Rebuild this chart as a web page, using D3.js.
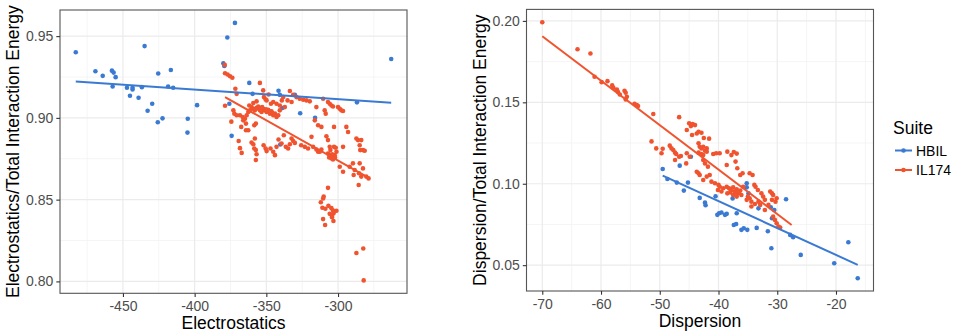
<!DOCTYPE html>
<html><head><meta charset="utf-8">
<script src="https://cdn.jsdelivr.net/npm/d3@7"></script>
<style>body{margin:0;background:#fff}svg{display:block}text{font-family:"Liberation Sans",Arial,sans-serif}</style>
</head><body><div id="chart"></div>
<script>
// ---------- DATA ----------
const suites = ["HBIL", "IL174"];
const suiteColors = ["#3A7AD2", "#F0532E"];

const elecTicks = [-450, -400, -350, -300];
const elecTickLabels = ["-450", "-400", "-350", "-300"];
const elecRatioTicks = [0.80, 0.85, 0.90, 0.95];
const elecRatioTickLabels = ["0.80", "0.85", "0.90", "0.95"];
const dispTicks = [-70, -60, -50, -40, -30, -20];
const dispTickLabels = ["-70", "-60", "-50", "-40", "-30", "-20"];
const dispRatioTicks = [0.05, 0.10, 0.15, 0.20];
const dispRatioTickLabels = ["0.05", "0.10", "0.15", "0.20"];

// Electrostatics vs Electrostatics/Total Interaction Energy
const elecHBIL = [
[-482.9,0.9401],[-469.2,0.9285],[-464.1,0.9257],[-457.7,0.9289],[-456.5,0.9277],[-455.1,0.9249],[-457.2,0.9192],
[-447.2,0.9184],[-443.3,0.9184],[-443.3,0.9174],[-445.1,0.9135],[-439.1,0.9123],[-436.8,0.9188],[-434.9,0.9439],
[-432.8,0.9044],[-429.6,0.9086],[-425.4,0.9271],[-425.7,0.8973],[-422.4,0.8997],[-418.5,0.9192],[-416.6,0.9293],
[-415.0,0.9184],[-404.8,0.8995],[-405.0,0.8910],[-398.3,0.9078],[-380.0,0.9334],[-379.3,0.9318],[-377.2,0.9492],
[-371.9,0.9581],[-375.8,0.9086],[-374.2,0.8890],[-361.9,0.9214],[-359.6,0.9147],[-341.5,0.9166],[-340.6,0.9141],
[-338.9,0.9060],[-340.3,0.8837],[-330.1,0.9141],[-326.4,0.9028],[-316.0,0.9001],[-286.8,0.9095],[-262.9,0.9360]
];
const elecIL174 = [
[-379.0,0.9324],[-378.8,0.9273],[-377.0,0.9265],[-375.3,0.9255],[-373.7,0.9245],[-378.8,0.9074],[-371.6,0.9178],[-370.7,0.9147],
[-374.4,0.8977],[-373.0,0.9046],[-372.3,0.9026],[-370.7,0.9016],[-369.3,0.8859],[-368.4,0.8815],[-367.2,0.8786],[-367.5,0.8945],
[-364.2,0.8924],[-362.6,0.8924],[-368.4,0.9016],[-366.5,0.9005],[-364.9,0.8995],[-363.7,0.9016],[-362.6,0.9036],[-361.4,0.9046],
[-360.3,0.9066],[-359.1,0.9056],[-358.0,0.9046],[-356.8,0.9062],[-355.6,0.9070],[-354.5,0.9046],[-353.3,0.9036],[-352.2,0.9056],
[-351.0,0.9046],[-349.8,0.9036],[-348.7,0.9050],[-347.5,0.9026],[-346.4,0.9040],[-345.2,0.9016],[-344.0,0.9026],[-342.9,0.9005],
[-341.7,0.9016],[-340.6,0.9046],[-361.9,0.9076],[-359.1,0.9091],[-356.8,0.9101],[-366.1,0.8985],[-364.2,0.8965],[-358.4,0.8955],
[-357.3,0.8965],[-360.3,0.8849],[-359.1,0.8839],[-358.4,0.8813],[-357.3,0.8803],[-356.8,0.8778],[-358.0,0.8874],[-357.3,0.8742],
[-351.9,0.8833],[-350.5,0.8813],[-349.8,0.8797],[-347.1,0.8813],[-345.2,0.8793],[-344.0,0.8772],[-342.9,0.8823],[-341.5,0.8868],
[-339.4,0.8843],[-337.8,0.8894],[-336.4,0.8823],[-334.8,0.8813],[-333.6,0.8839],[-331.3,0.8859],[-330.1,0.8847],[-332.4,0.8874],
[-354.5,0.9214],[-352.2,0.9168],[-351.7,0.9127],[-350.5,0.9113],[-349.8,0.9107],[-348.4,0.9143],[-346.8,0.9086],[-345.2,0.9097],
[-342.9,0.9086],[-340.6,0.9076],[-339.2,0.9107],[-338.2,0.9127],[-337.1,0.9066],[-335.2,0.9107],[-333.6,0.9164],[-332.4,0.9097],
[-331.3,0.9141],[-329.0,0.9127],[-326.7,0.9117],[-324.3,0.9111],[-322.0,0.9107],[-319.7,0.9101],[-325.7,0.8833],[-323.2,0.8823],
[-320.9,0.8813],[-318.5,0.8884],[-317.4,0.8823],[-316.2,0.8985],[-315.1,0.9066],[-313.9,0.8955],[-311.6,0.8945],[-310.4,0.9117],
[-309.3,0.9046],[-308.6,0.9026],[-308.1,0.8888],[-307.0,0.8864],[-305.8,0.8823],[-315.1,0.8807],[-313.9,0.8793],[-312.7,0.8793],
[-311.6,0.8807],[-307.0,0.9097],[-305.8,0.9086],[-304.6,0.9076],[-303.5,0.9070],[-302.8,0.8945],[-300.0,0.9066],[-298.8,0.9056],
[-297.7,0.9046],[-296.5,0.9042],[-307.0,0.8782],[-305.8,0.8772],[-304.6,0.8766],[-303.5,0.8762],[-302.3,0.8772],[-301.1,0.8793],
[-306.2,0.8758],[-304.6,0.8752],[-303.5,0.8746],[-305.3,0.8803],[-302.8,0.8823],[-301.6,0.8817],[-296.5,0.8823],[-298.8,0.8701],
[-296.5,0.8671],[-294.2,0.8945],[-293.0,0.8914],[-291.9,0.8701],[-289.6,0.8722],[-288.4,0.8681],[-289.1,0.8651],[-287.2,0.8874],
[-286.1,0.8864],[-284.9,0.8833],[-284.5,0.8803],[-283.8,0.8864],[-282.6,0.8803],[-281.4,0.8799],[-284.9,0.8722],[-285.4,0.8661],
[-283.8,0.8641],[-285.6,0.8590],[-282.6,0.8691],[-280.3,0.8641],[-278.7,0.8630],[-307.0,0.8572],[-310.0,0.8519],[-310.4,0.8507],
[-312.0,0.8484],[-310.9,0.8450],[-308.8,0.8444],[-306.7,0.8462],[-304.6,0.8448],[-303.5,0.8434],[-301.1,0.8432],[-305.8,0.8413],
[-303.9,0.8407],[-303.0,0.8418],[-304.2,0.8393],[-310.4,0.8381],[-309.0,0.8345],[-303.2,0.8369],[-282.4,0.8201],[-287.2,0.8174],
[-282.1,0.8006],
[-355.0,0.9058],[-353.8,0.9049],[-350.3,0.9052],[-347.9,0.9041],[-352.9,0.9066],[-357.5,0.9054],[-346.0,0.9031],[-304.1,0.8778],[-302.1,0.8757]
];
// linear fit lines (end points)
const elecFitHBIL = [[-482.9, 0.9222], [-262.9, 0.9093]];
const elecFitIL174 = [[-378.8, 0.9127], [-277.9, 0.8630]];

// Dispersion vs Dispersion/Total Interaction Energy
const dispHBIL = [
[-49.5,0.1091],[-48.7,0.1029],[-47.1,0.1007],[-46.6,0.1111],[-45.9,0.0958],[-45.2,0.1007],[-44.7,0.1166],[-43.2,0.0913],
[-42.3,0.0884],[-42.2,0.0868],[-40.5,0.0923],[-40.2,0.0809],[-39.9,0.0819],[-39.5,0.0823],[-38.9,0.0809],[-38.6,0.0815],
[-37.6,0.0909],[-37.4,0.0747],[-37.0,0.0753],[-36.9,0.0819],[-36.1,0.0717],[-35.7,0.0727],[-35.1,0.0717],[-35.2,0.1003],
[-35.2,0.0978],[-34.9,0.0941],[-33.5,0.0729],[-33.2,0.0849],[-31.6,0.0708],[-31.1,0.0856],[-31.0,0.0604],[-30.9,0.0788],
[-30.5,0.0839],[-28.5,0.0905],[-27.8,0.0686],[-27.3,0.0672],[-26.0,0.0563],[-20.3,0.0512],[-17.9,0.0641],[-16.3,0.0420]
];
const dispIL174 = [
[-70.0,0.1992],[-64.0,0.1826],[-61.8,0.1800],[-61.1,0.1657],[-59.9,0.1624],[-58.9,0.1630],[-58.1,0.1604],[-57.9,0.1589],
[-57.3,0.1579],[-57.1,0.1563],[-56.8,0.1548],[-56.0,0.1571],[-55.8,0.1559],[-55.6,0.1534],[-55.8,0.1518],[-54.3,0.1491],
[-53.9,0.1483],[-53.7,0.1477],[-51.1,0.1428],[-51.4,0.1260],[-50.6,0.1217],[-49.5,0.1215],[-49.7,0.1187],[-46.7,0.1409],
[-48.3,0.1234],[-48.0,0.1217],[-47.7,0.1207],[-47.4,0.1191],[-47.2,0.1183],[-47.4,0.1146],[-46.7,0.1166],[-46.4,0.1170],
[-45.4,0.1187],[-44.9,0.1166],[-45.5,0.1125],[-45.4,0.1330],[-45.0,0.1371],[-44.7,0.1354],[-44.4,0.1366],[-44.0,0.1360],
[-43.7,0.1309],[-44.5,0.1299],[-43.4,0.1319],[-42.9,0.1313],[-42.5,0.1281],[-41.6,0.1277],[-43.4,0.1248],[-43.2,0.1227],
[-42.9,0.1217],[-42.6,0.1227],[-42.0,0.1217],[-43.4,0.1191],[-42.9,0.1183],[-42.6,0.1176],[-42.3,0.1203],[-42.0,0.1197],
[-42.6,0.1146],[-42.3,0.1125],[-41.8,0.1105],[-43.7,0.1074],[-43.4,0.1064],[-43.2,0.1054],[-42.6,0.1023],[-42.0,0.1044],
[-41.5,0.1054],[-40.9,0.1183],[-40.4,0.1187],[-39.8,0.1187],[-38.5,0.1197],[-37.8,0.1176],[-37.4,0.1195],[-36.9,0.1185],
[-37.1,0.1136],[-38.6,0.1115],[-36.8,0.1095],[-36.3,0.1054],[-35.9,0.1064],[-41.2,0.1013],[-40.6,0.1003],[-40.0,0.0993],
[-39.8,0.0982],[-39.2,0.0972],[-40.1,0.0962],[-39.5,0.0952],[-38.6,0.0982],[-38.2,0.0972],[-37.8,0.0962],[-37.5,0.0978],
[-37.2,0.0952],[-36.9,0.0966],[-36.6,0.0941],[-36.3,0.0958],[-38.0,0.0946],[-37.5,0.0931],[-36.9,0.0921],[-36.1,0.0931],
[-38.5,0.0941],[-35.8,0.0982],[-34.7,0.1064],[-34.2,0.1054],[-33.9,0.0993],[-33.7,0.0982],[-33.3,0.0962],[-35.2,0.0901],
[-34.7,0.0911],[-34.4,0.0890],[-33.8,0.0876],[-33.2,0.0890],[-32.9,0.0870],[-34.4,0.0860],[-35.0,0.0921],[-32.7,0.0941],
[-32.4,0.0921],[-32.1,0.0901],[-32.1,0.0839],[-31.5,0.0870],[-31.2,0.0952],[-30.9,0.0941],[-30.7,0.0931],[-30.9,0.0901],
[-30.3,0.0890],[-30.1,0.0911],[-30.7,0.0798],[-30.4,0.0778],[-30.1,0.0757],[-29.8,0.0737],[-29.5,0.0731],
[-37.9,0.0958],[-37.0,0.0944],[-36.5,0.0952]
];
const dispFitHBIL = [[-49.5, 0.1050], [-16.3, 0.0502]];
const dispFitIL174 = [[-70.0, 0.1906], [-27.55, 0.0747]];

// ---------- DRAWING ----------
const W = 957, H = 335;
const svg = d3.select("#chart").append("svg").attr("width", W).attr("height", H);

function minorBreaks(ticks, domain) {
  const step = ticks[1] - ticks[0];
  const out = [];
  for (let i = -1; i < ticks.length; i++) {
    const v = ticks[0] + (i + 0.5) * step;
    if (v >= domain[0] && v <= domain[1]) out.push(v);
  }
  return out;
}

function drawPanel(c) {
  const all = c.series.flatMap(s => s.data);
  const xe = d3.extent(all, d => d[0]), ye = d3.extent(all, d => d[1]);
  const xp = (xe[1] - xe[0]) * 0.05, yp = (ye[1] - ye[0]) * 0.05;
  const xDom = [xe[0] - xp, xe[1] + xp], yDom = [ye[0] - yp, ye[1] + yp];
  const x = d3.scaleLinear().domain(xDom).range([c.left, c.right]);
  const y = d3.scaleLinear().domain(yDom).range([c.bottom, c.top]);
  const g = svg.append("g");

  g.selectAll(null).data(minorBreaks(c.xTicks, xDom)).join("line")
    .attr("x1", d => x(d)).attr("x2", d => x(d)).attr("y1", c.top).attr("y2", c.bottom)
    .attr("stroke", "#F2F2F2").attr("stroke-width", 0.8);
  g.selectAll(null).data(minorBreaks(c.yTicks, yDom)).join("line")
    .attr("y1", d => y(d)).attr("y2", d => y(d)).attr("x1", c.left).attr("x2", c.right)
    .attr("stroke", "#F2F2F2").attr("stroke-width", 0.8);
  g.selectAll(null).data(c.xTicks).join("line")
    .attr("x1", d => x(d)).attr("x2", d => x(d)).attr("y1", c.top).attr("y2", c.bottom)
    .attr("stroke", "#EBEBEB").attr("stroke-width", 1.2);
  g.selectAll(null).data(c.yTicks).join("line")
    .attr("y1", d => y(d)).attr("y2", d => y(d)).attr("x1", c.left).attr("x2", c.right)
    .attr("stroke", "#EBEBEB").attr("stroke-width", 1.2);

  c.series.forEach(s => {
    g.selectAll(null).data(s.data).join("circle")
      .attr("cx", d => x(d[0])).attr("cy", d => y(d[1])).attr("r", 2.3)
      .attr("fill", s.color);
  });
  const line = d3.line().x(d => x(d[0])).y(d => y(d[1]));
  c.series.forEach(s => {
    g.append("path").datum(s.fit).attr("d", line)
      .attr("fill", "none").attr("stroke", s.color).attr("stroke-width", 2);
  });

  g.append("rect").attr("x", c.left).attr("y", c.top)
    .attr("width", c.right - c.left).attr("height", c.bottom - c.top)
    .attr("fill", "none").attr("stroke", "#555").attr("stroke-width", 1.1);

  const xa = d3.axisBottom(x).tickValues(c.xTicks).tickFormat((d, i) => c.xLabels[i])
    .tickSize(3.7).tickPadding(4);
  const ya = d3.axisLeft(y).tickValues(c.yTicks).tickFormat((d, i) => c.yLabels[i])
    .tickSize(3.7).tickPadding(3);
  const gx = g.append("g").attr("transform", `translate(0,${c.bottom})`).call(xa);
  const gy = g.append("g").attr("transform", `translate(${c.left},0)`).call(ya);
  [gx, gy].forEach(a => {
    a.select(".domain").remove();
    a.selectAll(".tick line").attr("stroke", "#333").attr("stroke-width", 1.1);
    a.selectAll(".tick text").attr("fill", "#4D4D4D").attr("font-size", 14)
      .attr("font-family", "Liberation Sans, Arial, sans-serif");
  });

  g.append("text").attr("x", (c.left + c.right) / 2).attr("y", c.xTitleY)
    .attr("text-anchor", "middle").attr("font-size", 17.5).attr("fill", "#000").text(c.xTitle);
  g.append("text").attr("transform", `translate(${c.yTitleX},${(c.top + c.bottom) / 2}) rotate(-90)`)
    .attr("text-anchor", "middle").attr("font-size", 17.5).attr("fill", "#000").text(c.yTitle);
}

drawPanel({
  left: 60, right: 407, top: 10, bottom: 293.3,
  xTicks: elecTicks, xLabels: elecTickLabels, yTicks: elecRatioTicks, yLabels: elecRatioTickLabels,
  xTitle: "Electrostatics", yTitle: "Electrostatics/Total Interaction Energy",
  xTitleY: 329, yTitleX: 19,
  series: [
    { data: elecHBIL, fit: elecFitHBIL, color: suiteColors[0] },
    { data: elecIL174, fit: elecFitIL174, color: suiteColors[1] }
  ]
});

drawPanel({
  left: 526.5, right: 873.5, top: 9.4, bottom: 291,
  xTicks: dispTicks, xLabels: dispTickLabels, yTicks: dispRatioTicks, yLabels: dispRatioTickLabels,
  xTitle: "Dispersion", yTitle: "Dispersion/Total Interaction Energy",
  xTitleY: 327, yTitleX: 486,
  series: [
    { data: dispHBIL, fit: dispFitHBIL, color: suiteColors[0] },
    { data: dispIL174, fit: dispFitIL174, color: suiteColors[1] }
  ]
});

// legend
const lg = svg.append("g");
lg.append("text").attr("x", 893).attr("y", 134).attr("font-size", 17.5).attr("fill", "#000").text("Suite");
const keyY = [150.5, 170];
suites.forEach((s, i) => {
  lg.append("line").attr("x1", 895).attr("x2", 912).attr("y1", keyY[i]).attr("y2", keyY[i])
    .attr("stroke", suiteColors[i]).attr("stroke-width", 2);
  lg.append("circle").attr("cx", 903.5).attr("cy", keyY[i]).attr("r", 2.3).attr("fill", suiteColors[i]);
  lg.append("text").attr("x", 916).attr("y", keyY[i] + 5).attr("font-size", 14).attr("fill", "#000").text(s);
});
</script>
</body></html>
